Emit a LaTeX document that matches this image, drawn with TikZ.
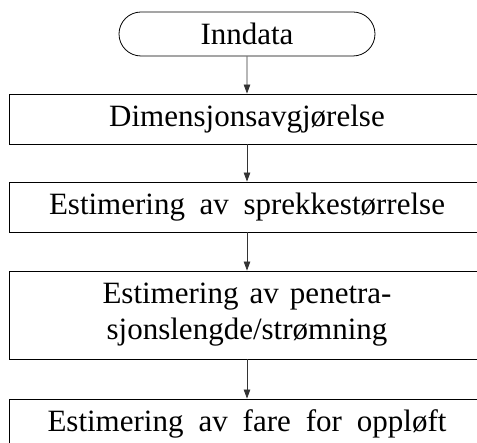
\documentclass[tikz,border=0pt]{standalone}
\usepackage{fontspec}
\setmainfont{Liberation Serif}
\usetikzlibrary{arrows.meta,shapes.misc}
\begin{document}
\begin{tikzpicture}[x=1pt,y=1pt,
  lab/.style={font=\fontsize{31}{36}\selectfont, align=center, inner sep=0pt},
  box/.style={lab, draw, line width=0.8pt, minimum width=476pt},
  term/.style={lab, draw, line width=0.8pt, rounded rectangle, minimum width=256pt, minimum height=44pt},
  flow/.style={-{Triangle[length=9pt,width=6.5pt]}, line width=0.8pt, draw=black!80}]
\clip (0,0) rectangle (477,-443);
\node[term] (t) at (247,-34) {Inndata};
\node[box, minimum height=50pt] (b1) at (247,-119) {Dimensjonsavgjørelse};
\node[box, minimum height=50pt] (b2) at (247,-207) {\makebox[396pt][s]{Estimering av sprekkestørrelse}};
\node[box, minimum height=88pt] (b3) at (247,-315) {\makebox[289pt][s]{Estimering av penetra-}\\sjonslengde/strømning};
\node[box, minimum height=50pt] (b4) at (247,-424) {\makebox[399pt][s]{Estimering av fare for oppløft}};
\draw[flow] (t) -- (b1);
\draw[flow] (b1) -- (b2);
\draw[flow] (b2) -- (b3);
\draw[flow] (b3) -- (b4);
\end{tikzpicture}
\end{document}
